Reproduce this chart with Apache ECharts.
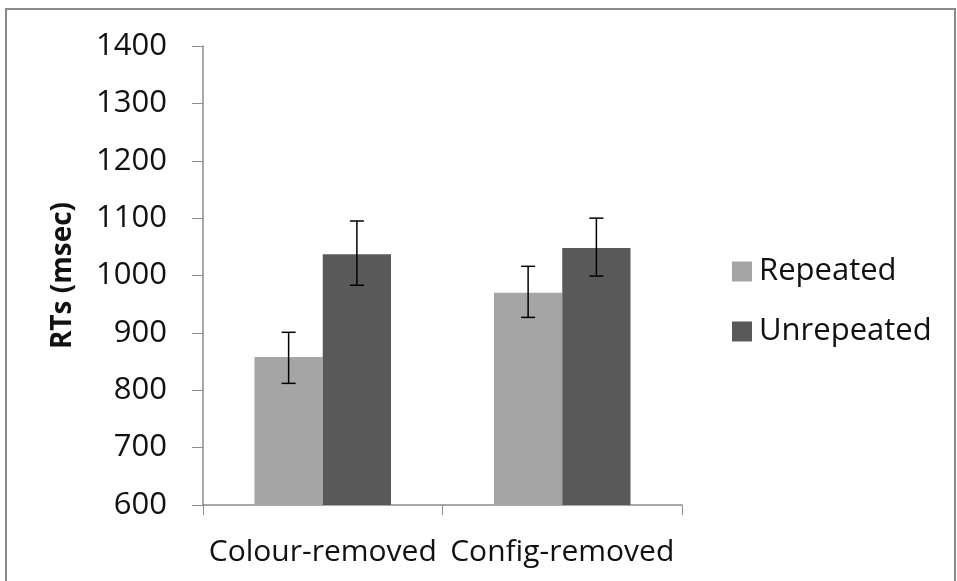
<!DOCTYPE html>
<html>
<head>
<meta charset="utf-8">
<script src="https://cdn.jsdelivr.net/npm/echarts@6/dist/echarts.min.js"></script>
<style>
html,body{margin:0;padding:0;background:#fff;}
#chart{width:957px;height:581px;}
</style>
</head>
<body>
<div id="chart"></div>
<script>
var categories = ['Colour-removed', 'Config-removed'];
var seriesNames = ['Repeated', 'Unrepeated'];
var repeated = [858, 970];
var unrepeated = [1037, 1048];
var repeatedLow = [812, 927];
var repeatedHigh = [901, 1016];
var unrepeatedLow = [983, 999];
var unrepeatedHigh = [1095, 1100];
var yTicks = [600, 700, 800, 900, 1000, 1100, 1200, 1300, 1400];

var FONT = 'Open Sans';
var BAR_FRAC = 0.285;

function errData(low, high) {
  return categories.map(function (c, i) { return [i, low[i], high[i]]; });
}
function errSeries(low, high, sign) {
  return {
    type: 'custom',
    silent: true,
    z: 10,
    data: errData(low, high),
    renderItem: function (params, api) {
      var i = api.value(0);
      var lo = api.coord([i, api.value(1)]);
      var hi = api.coord([i, api.value(2)]);
      var catW = api.size([1, 0])[0];
      var x = lo[0] + sign * catW * BAR_FRAC / 2;
      var cap = 7;
      var st = { stroke: '#000', lineWidth: 1.5 };
      return {
        type: 'group',
        children: [
          { type: 'line', shape: { x1: x, y1: lo[1], x2: x, y2: hi[1] }, style: st },
          { type: 'line', shape: { x1: x - cap, y1: lo[1], x2: x + cap, y2: lo[1] }, style: st },
          { type: 'line', shape: { x1: x - cap, y1: hi[1], x2: x + cap, y2: hi[1] }, style: st }
        ]
      };
    }
  };
}

var chart = echarts.init(document.getElementById('chart'));
chart.setOption({
  backgroundColor: '#fff',
  animation: false,
  graphic: [{
    type: 'rect',
    shape: { x: 6, y: 9, width: 949, height: 580 },
    style: { fill: 'none', stroke: '#8a8a8a', lineWidth: 2 },
    silent: true
  }],
  grid: { left: 203, right: 275, top: 46, bottom: 76 },
  legend: {
    orient: 'vertical',
    left: 727,
    top: 251,
    itemWidth: 20,
    itemHeight: 20,
    itemGap: 29,
    icon: 'rect',
    data: seriesNames,
    textStyle: { fontFamily: FONT, fontSize: 31, color: '#111', padding: [0, 0, 0, 2] }
  },
  xAxis: {
    type: 'category',
    data: categories,
    axisLine: { lineStyle: { color: '#8c8c8c', width: 1.5 } },
    axisTick: { show: true, length: 10, alignWithLabel: false, lineStyle: { color: '#8c8c8c' } },
    axisLabel: { fontFamily: FONT, fontSize: 30, color: '#111', margin: 32, interval: 0 }
  },
  yAxis: {
    type: 'value',
    min: 600,
    max: 1400,
    interval: 100,
    name: 'RTs (msec)',
    nameLocation: 'middle',
    nameGap: 126,
    nameTextStyle: { fontFamily: FONT, fontSize: 28, fontWeight: 'bold', color: '#111' },
    axisLine: { show: true, lineStyle: { color: '#8c8c8c', width: 1.5 } },
    axisTick: { show: true, length: 11, lineStyle: { color: '#8c8c8c' } },
    splitLine: { show: false },
    axisLabel: {
      fontFamily: FONT, fontSize: 31, color: '#111', margin: 36,
      formatter: function (v) { return yTicks.indexOf(v) >= 0 ? String(v) : ''; }
    }
  },
  series: [
    {
      name: seriesNames[0], type: 'bar', data: repeated,
      barGap: '0%', barCategoryGap: '43%',
      itemStyle: { color: '#a5a5a5' }
    },
    {
      name: seriesNames[1], type: 'bar', data: unrepeated,
      barGap: '0%', barCategoryGap: '43%',
      itemStyle: { color: '#595959' }
    },
    errSeries(repeatedLow, repeatedHigh, -1),
    errSeries(unrepeatedLow, unrepeatedHigh, 1)
  ]
});
</script>
</body>
</html>
